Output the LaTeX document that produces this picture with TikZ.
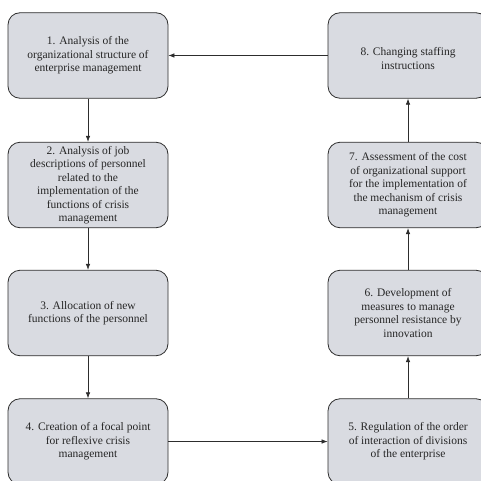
\documentclass[tikz,border=0pt]{standalone}
\usepackage{fontspec}
\setmainfont{Liberation Serif}
\usetikzlibrary{arrows.meta}
\definecolor{boxfill}{RGB}{217,219,225}
\definecolor{boxline}{RGB}{45,45,45}
\tikzset{
	stage/.style={draw=boxline,fill=boxfill,line width=0.8pt,rounded corners=12pt,
		minimum width=160pt,minimum height=85.5pt,inner sep=1pt,align=center,
		font=\fontsize{11.5}{13.5}\selectfont,text=black!85},
	flow/.style={draw=boxline,line width=0.7pt,-{Latex[length=6pt,width=4.5pt]}}
}
\begin{document}
\begin{tikzpicture}[x=1pt,y=1pt]
	\useasboundingbox (0,0) rectangle (481,480);
	\clip (0,0) rectangle (481,480);
	\fill[white] (0,0) rectangle (481,480);
	% left column
	\node[stage] (n1) at (88,424.5) {1. Analysis of the\\organizational structure of\\enterprise management};
	\node[stage] (n2) at (88,295) {2. Analysis of job\\descriptions of personnel\\related to the\\implementation of the\\functions of crisis\\management};
	\node[stage] (n3) at (88,167) {3. Allocation of new\\functions of the personnel};
	\node[stage] (n4) at (88,38.5) {4. Creation of a focal point\\for reflexive crisis\\management};
	% right column
	\node[stage] (n5) at (408,38.5) {5. Regulation of the order\\of interaction of divisions\\of the enterprise};
	\node[stage] (n6) at (408,167) {6. Development of\\measures to manage\\personnel resistance by\\innovation};
	\node[stage] (n7) at (408,295) {7. Assessment of the cost\\of organizational support\\for the implementation of\\the mechanism of crisis\\management};
	\node[stage] (n8) at (408,424.5) {\mbox{}\\[1pt]8. Changing staffing\\instructions};
	% connectors
	\draw[flow] (n1) -- (n2);
	\draw[flow] (n2) -- (n3);
	\draw[flow] (n3) -- (n4);
	\draw[flow] (n4) -- (n5);
	\draw[flow] (n5) -- (n6);
	\draw[flow] (n6) -- (n7);
	\draw[flow] (n7) -- (n8);
	\draw[flow] (n8) -- (n1);
\end{tikzpicture}
\end{document}
